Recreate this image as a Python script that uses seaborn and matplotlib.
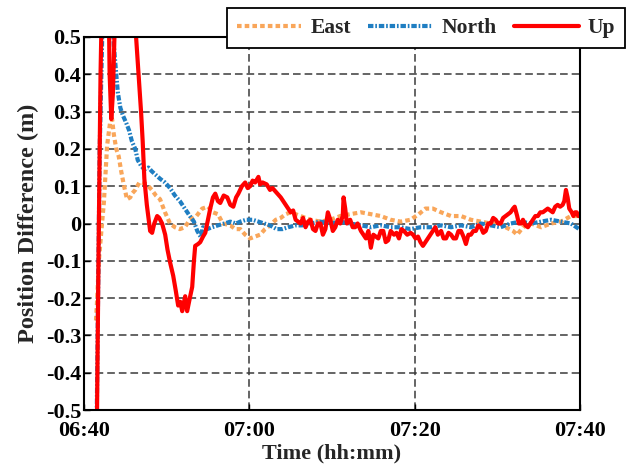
import matplotlib
matplotlib.use("Agg")
import matplotlib.pyplot as plt
import seaborn as sns

# Time axis: minutes after 06:40
x_tick_pos = [0, 20, 40, 60]
x_tick_labels = ["06:40", "07:00", "07:20", "07:40"]
y_tick_pos = [-0.5, -0.4, -0.3, -0.2, -0.1, 0.0, 0.1, 0.2, 0.3, 0.4, 0.5]
y_tick_labels = ["-0.5", "-0.4", "-0.3", "-0.2", "-0.1", "0", "0.1", "0.2", "0.3", "0.4", "0.5"]

east_t = [1.45, 1.6, 1.8, 2.1, 2.4, 2.8, 3.15, 3.4, 3.6, 3.9,
          4.2, 4.5, 4.85, 5.2, 5.6, 5.8, 6.2, 6.7, 7.0, 7.6,
          8.2, 8.7, 9.2, 9.8, 10.4, 11.0, 11.6, 12.2, 12.8, 13.6,
          14.3, 15.0, 15.6, 16.2, 16.8, 17.7, 18.3, 18.9, 19.5, 20.1,
          20.7, 21.3, 21.9, 22.5, 23.2, 23.8, 24.4, 25.0, 25.6, 26.2,
          27.4, 28.6, 29.8, 31.0, 32.2, 33.5, 34.7, 35.9, 37.1, 38.3,
          39.5, 40.5, 41.3, 42.2, 43.2, 44.4, 45.6, 46.8, 48.0, 49.2,
          50.4, 51.0, 51.9, 52.4, 53.1, 54.1, 55.3, 56.5, 57.7, 58.9,
          60.0]
east_v = [-0.26, -0.2, -0.1, -0.02, 0.055, 0.21, 0.27, 0.28, 0.24, 0.2,
          0.18, 0.14, 0.1, 0.065, 0.07, 0.08, 0.09, 0.11, 0.11, 0.105,
          0.09, 0.075, 0.065, 0.03, 0.0, -0.01, -0.015, -0.01, 0.01, 0.02,
          0.04, 0.045, 0.03, 0.025, 0.0, -0.005, -0.015, -0.015, -0.03, -0.04,
          -0.035, -0.03, -0.015, -0.005, 0.01, 0.015, 0.025, 0.03, 0.025, 0.02,
          0.01, 0.005, 0.01, 0.02, 0.025, 0.03, 0.025, 0.02, 0.01, 0.005,
          0.01, 0.025, 0.04, 0.04, 0.03, 0.02, 0.02, 0.01, 0.005, 0.0,
          0.0, -0.01, -0.02, -0.03, -0.01, 0.0, -0.01, 0.0, 0.005, 0.02,
          0.02]

north_t = [1.5, 1.9, 2.3, 3.4, 3.6, 3.9, 4.1, 4.4, 4.7, 5.1,
           5.45, 5.8, 6.2, 6.5, 6.9, 7.3, 7.8, 8.2, 8.7, 9.2,
           9.8, 10.4, 11.0, 11.6, 12.2, 12.8, 13.3, 13.7, 14.1, 14.4,
           14.9, 15.5, 16.2, 17.0, 17.7, 18.4, 18.9, 19.6, 20.4, 21.1,
           21.8, 22.5, 23.3, 24.0, 24.7, 25.6, 26.4, 27.4, 28.6, 29.8,
           31.0, 32.2, 33.5, 34.7, 35.9, 37.1, 38.3, 39.5, 40.7, 41.9,
           43.2, 44.4, 45.6, 46.8, 48.0, 49.2, 50.4, 51.6, 52.8, 54.1,
           55.3, 56.5, 57.7, 58.9, 59.9]
north_v = [-0.6, 0.2, 0.6, 0.6, 0.48, 0.4, 0.35, 0.31, 0.29, 0.27,
           0.25, 0.22, 0.2, 0.17, 0.155, 0.145, 0.15, 0.14, 0.13, 0.12,
           0.11, 0.095, 0.075, 0.06, 0.04, 0.02, 0.005, -0.02, -0.035, -0.01,
           -0.015, -0.01, -0.005, 0.0, 0.005, 0.0, 0.005, 0.01, 0.01, 0.005,
           0.0, -0.005, -0.015, -0.015, -0.01, -0.005, -0.005, 0.0, 0.005, 0.0,
           0.005, 0.0, -0.005, -0.01, -0.005, -0.01, -0.01, -0.015, -0.01, -0.01,
           -0.005, -0.01, -0.005, -0.01, 0.0, -0.005, -0.01, 0.0, 0.005, 0.0,
           0.005, 0.01, 0.005, 0.0, -0.015]

up_t = [1.45, 1.75, 2.0, 2.3, 2.9, 3.1, 3.3, 3.5, 3.8, 4.1,
        6.0, 6.3, 6.6, 6.9, 7.1, 7.3, 7.6, 8.0, 8.24, 8.5,
        8.85, 9.1, 9.45, 9.82, 10.1, 10.42, 10.79, 11.1, 11.39, 11.65,
        11.88, 12.24, 12.48, 12.8, 13.09, 13.3, 13.45, 13.8, 14.06, 14.4,
        14.67, 15.0, 15.27, 15.6, 15.88, 16.2, 16.48, 16.9, 17.33, 17.7,
        18.06, 18.4, 18.67, 19.1, 19.5, 19.8, 20.1, 20.4, 20.7, 21.1,
        21.3, 21.6, 22.1, 22.5, 22.8, 23.2, 23.8, 24.1, 24.4, 25.0,
        25.3, 25.6, 26.2, 26.5, 26.8, 27.1, 27.4, 27.7, 28.0, 28.3,
        28.6, 28.9, 29.2, 29.5, 29.8, 30.1, 30.4, 30.7, 31.0, 31.3,
        31.4, 31.6, 31.8, 32.2, 32.5, 32.8, 33.1, 33.5, 33.8, 34.1,
        34.4, 34.7, 35.0, 35.3, 35.6, 35.9, 36.2, 36.5, 36.8, 37.1,
        37.5, 37.8, 38.1, 38.4, 38.7, 39.1, 39.5, 39.8, 40.1, 40.4,
        40.7, 41.0, 41.3, 41.6, 41.9, 42.2, 42.5, 42.8, 43.2, 43.5,
        43.8, 44.1, 44.4, 44.7, 45.0, 45.3, 45.6, 45.9, 46.2, 46.5,
        46.8, 47.1, 47.4, 47.7, 48.0, 48.3, 48.6, 48.9, 49.2, 49.5,
        49.8, 50.1, 50.4, 50.7, 51.0, 51.3, 51.6, 51.9, 52.1, 52.4,
        52.6, 52.9, 53.1, 53.4, 53.7, 54.0, 54.3, 54.6, 54.9, 55.2,
        55.5, 55.8, 56.1, 56.4, 56.7, 57.0, 57.3, 57.6, 57.9, 58.1,
        58.3, 58.5, 58.7, 59.0, 59.2, 59.4, 59.6, 59.8, 60.0]
up_v = [-0.8, -0.1, 0.4, 0.75, 0.75, 0.4, 0.28, 0.35, 0.6, 0.75,
        0.75, 0.5, 0.4, 0.3, 0.22, 0.12, 0.05, -0.02, -0.025, 0.0,
        0.02, 0.015, 0.0, -0.03, -0.07, -0.105, -0.14, -0.18, -0.22, -0.21,
        -0.235, -0.195, -0.235, -0.2, -0.17, -0.1, -0.06, -0.055, -0.05, -0.035,
        -0.025, 0.01, 0.04, 0.07, 0.08, 0.06, 0.055, 0.075, 0.07, 0.05,
        0.045, 0.07, 0.08, 0.1, 0.11, 0.095, 0.1, 0.115, 0.11, 0.125,
        0.105, 0.11, 0.105, 0.09, 0.095, 0.085, 0.07, 0.06, 0.05, 0.03,
        0.035, 0.01, 0.0, 0.015, -0.01, 0.005, 0.01, -0.015, -0.02, 0.0,
        0.0, -0.03, -0.015, 0.03, 0.01, -0.02, -0.01, 0.01, 0.0, 0.02,
        0.07, 0.04, 0.0, 0.01, -0.01, -0.01, 0.0, -0.02, -0.03, -0.04,
        -0.02, -0.065, -0.03, -0.035, -0.04, -0.02, -0.02, -0.05, -0.045, -0.02,
        -0.03, -0.025, -0.04, -0.015, -0.02, -0.03, -0.025, -0.03, -0.04, -0.035,
        -0.05, -0.06, -0.05, -0.04, -0.03, -0.02, -0.01, -0.03, -0.02, -0.04,
        -0.04, -0.025, -0.03, -0.04, -0.04, -0.02, -0.02, -0.035, -0.055, -0.03,
        -0.03, -0.02, -0.02, -0.005, -0.01, -0.025, -0.02, 0.0, 0.0, 0.015,
        0.01, 0.0, 0.0, 0.015, 0.02, 0.025, 0.03, 0.04, 0.045, 0.02,
        0.0, 0.0, 0.01, -0.005, -0.01, 0.0, 0.01, 0.02, 0.02, 0.03,
        0.03, 0.035, 0.04, 0.035, 0.03, 0.045, 0.05, 0.045, 0.05, 0.06,
        0.09, 0.07, 0.04, 0.03, 0.02, 0.03, 0.03, 0.02, 0.02]

EAST_COLOR = "#F9A65A"
NORTH_COLOR = "#1F7EC2"
UP_COLOR = "#FF0000"

sns.set_theme(style="ticks")
plt.rcParams["font.family"] = ["Liberation Serif", "DejaVu Serif"]
plt.rcParams["font.weight"] = "bold"
plt.rcParams["axes.labelweight"] = "bold"

fig = plt.figure(figsize=(6.32, 4.71), dpi=100)
ax = fig.add_axes([84 / 632, 61 / 471, 496 / 632, 373 / 471])

LW = 3.0
sns.lineplot(x=east_t, y=east_v, ax=ax, color=EAST_COLOR, lw=LW,
             linestyle=(0, (1.1, 0.75)), estimator=None, sort=False, label="East")
sns.lineplot(x=north_t, y=north_v, ax=ax, color=NORTH_COLOR, lw=LW,
             linestyle=(0, (1.3, 0.45, 0.4, 0.45)), estimator=None, sort=False, label="North")
sns.lineplot(x=up_t, y=up_v, ax=ax, color=UP_COLOR, lw=LW,
             linestyle="-", estimator=None, sort=False, label="Up")

handles, labels = ax.get_legend_handles_labels()
if ax.get_legend() is not None:
    ax.get_legend().remove()

ax.set_xlim(0, 60)
ax.set_ylim(-0.5, 0.5)
ax.set_xticks(x_tick_pos)
ax.set_xticklabels(x_tick_labels)
ax.set_yticks(y_tick_pos)
ax.set_yticklabels(y_tick_labels)
ax.tick_params(axis="both", direction="in", length=4, width=1.0, colors="black",
               labelsize=16)
ax.tick_params(axis="y", pad=2)
ax.tick_params(axis="x", pad=8)
for lab in ax.get_xticklabels() + ax.get_yticklabels():
    lab.set_fontweight("bold")

ax.grid(True, color="#3a3a3a", linestyle=(0, (5, 2.6)), linewidth=1.1)
for side in ["left", "right", "top", "bottom"]:
    ax.spines[side].set_visible(True)
    ax.spines[side].set_color("black")
    ax.spines[side].set_linewidth(1.5)

ax.set_xlabel("Time (hh:mm)", fontsize=16, fontweight="bold", labelpad=2)
ax.set_ylabel("Position Difference (m)", fontsize=17.5, fontweight="bold", labelpad=5)

leg = fig.legend(handles, labels, loc="center",
                 bbox_to_anchor=(426 / 632, 1 - 28 / 471), ncol=3,
                 frameon=True, fancybox=False, shadow=False,
                 handlelength=3.0, handletextpad=0.42, columnspacing=0.8,
                 borderpad=0.45, borderaxespad=0.0,
                 prop={"family": "Liberation Serif", "weight": "bold", "size": 15.5})
leg.get_frame().set_edgecolor("black")
leg.get_frame().set_linewidth(1.3)
leg.get_frame().set_alpha(1.0)

fig.savefig("out.png", dpi=100)
